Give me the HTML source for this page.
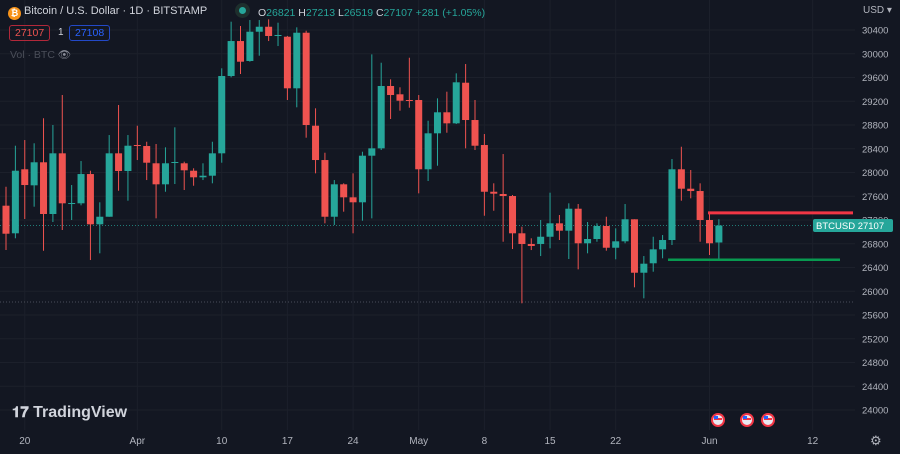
<!DOCTYPE html>
<html><head><meta charset="utf-8">
<style>
html,body{margin:0;padding:0;background:#131722;width:900px;height:454px;overflow:hidden;font-family:"Liberation Sans",sans-serif;}
#wrap{position:relative;width:900px;height:454px;}
svg{position:absolute;left:0;top:0;}
.hdr{position:absolute;color:#d1d4dc;font-size:11px;white-space:nowrap;}
.box{position:absolute;font-size:10.5px;border:1px solid;border-radius:3px;padding:1px 5px;}
</style></head>
<body>
<div id="wrap">
<svg id="chart" width="900" height="454"></svg>
<div class="hdr" style="left:8px;top:5px;"><span style="display:inline-block;width:13px;height:13px;border-radius:50%;background:#f7931a;color:#fff;font-size:9px;text-align:center;line-height:13px;vertical-align:-2px;font-weight:bold;">₿</span> Bitcoin / U.S. Dollar · 1D · BITSTAMP</div>
<div class="hdr" style="left:235px;top:3px;width:15px;height:15px;border-radius:50%;background:#1e2f2d;"><div style="width:7px;height:7px;border-radius:50%;background:#26a69a;margin:4px;"></div></div>
<div class="hdr" style="left:258px;top:7px;font-size:10.5px;">O<span style="color:#26a69a">26821</span> H<span style="color:#26a69a">27213</span> L<span style="color:#26a69a">26519</span> C<span style="color:#26a69a">27107</span> <span style="color:#26a69a">+281 (+1.05%)</span></div>
<div class="box" style="left:9px;top:25px;color:#ef5350;border-color:#b2283a;">27107</div>
<div class="hdr" style="left:58px;top:27px;font-size:10px;">1</div>
<div class="box" style="left:69px;top:25px;color:#2962ff;border-color:#2349c8;">27108</div>
<div class="hdr" style="left:10px;top:48px;color:#4a4e59;font-size:10.5px;">Vol · BTC <span style="color:#8a8e99">👁</span></div>
<div class="hdr" style="left:12px;top:404px;font-size:16px;font-weight:bold;color:#d1d4dc;"><span style="font-size:15px;">𝟏𝟕</span> TradingView</div>
<div class="hdr" style="left:863px;top:5px;font-size:10px;color:#b2b5be;">USD ▾</div>
<div class="hdr" style="left:870px;top:433px;font-size:13px;color:#b2b5be;">⚙</div>
</div>
<script>
const categories=["Mar 18","Mar 19","Mar 20","Mar 21","Mar 22","Mar 23","Mar 24","Mar 25","Mar 26","Mar 27","Mar 28","Mar 29","Mar 30","Mar 31","Apr 1","Apr 2","Apr 3","Apr 4","Apr 5","Apr 6","Apr 7","Apr 8","Apr 9","Apr 10","Apr 11","Apr 12","Apr 13","Apr 14","Apr 15","Apr 16","Apr 17","Apr 18","Apr 19","Apr 20","Apr 21","Apr 22","Apr 23","Apr 24","Apr 25","Apr 26","Apr 27","Apr 28","Apr 29","Apr 30","May 1","May 2","May 3","May 4","May 5","May 6","May 7","May 8","May 9","May 10","May 11","May 12","May 13","May 14","May 15","May 16","May 17","May 18","May 19","May 20","May 21","May 22","May 23","May 24","May 25","May 26","May 27","May 28","May 29","May 30","May 31","Jun 1","Jun 2"];
const opens=[27441,26976,28054,27784,28172,27301,28323,27481,27481,27974,27127,27255,28323,28025,28463,28446,28155,27801,28165,28155,28030,27919,27946,28323,29625,30214,29878,30371,30455,30299,30287,29418,30354,28788,28210,27255,27801,27582,27498,28283,28407,29457,29317,29221,29221,28054,28660,29014,28828,29512,28884,28463,27676,27638,27604,26976,26796,26796,26918,27144,27020,27390,26808,26880,27099,26733,26841,27212,26312,26471,26706,26863,28054,27727,27688,27200,26821];
const highs=[27761,28451,28547,28492,28913,28800,29305,27789,28193,28030,27498,28631,29137,28631,28788,28518,28480,28424,28761,28182,28071,28155,28518,29755,30540,30467,30568,30568,30580,30523,30300,30445,30388,29081,28333,27873,27818,27986,28350,29990,29849,29569,29435,29933,29305,28872,29249,29361,29670,29827,29221,28648,27818,28311,27621,27087,26892,27200,27660,27284,27481,27469,27166,27144,27255,27060,27469,27212,26593,26918,26947,28227,28434,28042,27818,27340,27213];
const lows=[26694,26892,27217,27424,26683,27166,27031,27200,27447,26526,26639,27255,27693,27525,28210,27873,27228,27676,27806,27705,27777,27873,27818,28165,29603,29659,29866,29967,30214,30130,29221,29098,28586,27986,27144,27116,27340,26976,27188,27228,28379,28901,29041,29091,27649,27857,28114,28670,28817,28407,28379,27272,27356,26834,26711,25797,26694,26593,26723,26863,26543,26369,26639,26834,26683,26538,26808,26066,25881,26329,26555,26779,27525,27565,26834,26610,26519];
const closes=[26969,28030,27789,28172,27301,28323,27481,27486,27974,27127,27255,28323,28025,28451,28446,28165,27801,28155,28177,28037,27919,27946,28323,29625,30214,29866,30371,30455,30299,30316,29418,30354,28800,28210,27255,27801,27582,27498,28283,28407,29457,29305,29209,29213,28054,28660,29014,28828,29519,28884,28451,27676,27643,27604,26976,26796,26762,26918,27144,27020,27390,26808,26880,27099,26733,26841,27212,26312,26464,26706,26863,28054,27727,27688,27200,26808,27107];
const priceTicks=[30400,30000,29600,29200,28800,28400,28000,27600,27200,26800,26400,26000,25600,25200,24800,24400,24000];
const dateLabels=["20","Apr","10","17","24","May","8","15","22","Jun","12"];
const dateLabelIdx=[2,14,23,30,37,44,51,58,65,75,86];
const lastPrice=27107, resistance=27320, support=26530, lowLine=25820;

const NS="http://www.w3.org/2000/svg";
const svg=document.getElementById('chart');
const y=p=>30+(30400-p)*0.059375;
const x=i=>6+i*9.38;
function mk(tag,attrs,parent){const e=document.createElementNS(NS,tag);for(const k in attrs)e.setAttribute(k,attrs[k]);(parent||svg).appendChild(e);return e;}
const G='#26a69a',R='#ef5350';
// grid
priceTicks.forEach(p=>{const l=mk('line',{x1:0,x2:855,y1:y(p),y2:y(p),stroke:'#1c202b','stroke-width':1});

});
dateLabelIdx.forEach(i=>{const l=mk('line',{x1:x(i),x2:x(i),y1:0,y2:430,stroke:'#1c202b','stroke-width':1});

});
// dotted lines
const d1=mk('line',{x1:0,x2:855,y1:y(lowLine),y2:y(lowLine),stroke:'#4a4e59','stroke-width':1,'stroke-dasharray':'1,2'});


const d2=mk('line',{x1:0,x2:855,y1:y(lastPrice),y2:y(lastPrice),stroke:'#26a69a','stroke-width':1,'stroke-dasharray':'1,2','stroke-opacity':0.7});


// candles
for(let i=0;i<opens.length;i++){
  const o=opens[i],c=closes[i],up=c>=o,col=up?G:R;
  const g=mk('g',{});
  
  
  mk('line',{x1:x(i),x2:x(i),y1:y(highs[i]),y2:y(lows[i]),stroke:col,'stroke-width':1},g);
  const t=y(Math.max(o,c)),b=y(Math.min(o,c));
  mk('rect',{x:x(i)-3.5,y:t,width:7,height:Math.max(1,b-t),fill:col},g);
}
// drawn lines
const rl=mk('line',{x1:708,x2:853,y1:y(resistance),y2:y(resistance),stroke:'#f23645','stroke-width':3});


const sl=mk('line',{x1:668,x2:840,y1:y(support),y2:y(support),stroke:'#089950','stroke-width':2.5});


// price axis
priceTicks.forEach(p=>{const t=mk('text',{x:862,y:y(p)+3.5,fill:'#b2b5be','font-size':'9.5','font-family':'Liberation Sans, sans-serif'});t.textContent=p;

});
const tag=mk('rect',{x:813,y:y(lastPrice)-6.5,width:80,height:13,fill:'#26a69a',rx:2});


const tt=mk('text',{x:816,y:y(lastPrice)+3.5,fill:'#fff','font-size':'9.5','font-family':'Liberation Sans, sans-serif'});tt.textContent='BTCUSD  '+lastPrice;


// date axis
dateLabels.forEach((s,k)=>{const t=mk('text',{x:x(dateLabelIdx[k]),y:444,fill:'#b2b5be','font-size':'10','text-anchor':'middle','font-family':'Liberation Sans, sans-serif'});t.textContent=s;

});
// event flags
[718,747,768].forEach(px=>{const g=mk('g',{});


mk('circle',{cx:px,cy:420,r:7,fill:'#f23645'},g);mk('circle',{cx:px,cy:420,r:5,fill:'#e8e8f0'},g);mk('rect',{x:px-4,y:418,width:8,height:2,fill:'#f23645'},g);mk('rect',{x:px-4,y:416,width:4,height:3,fill:'#2962ff'},g);});
</script>
</body></html>
